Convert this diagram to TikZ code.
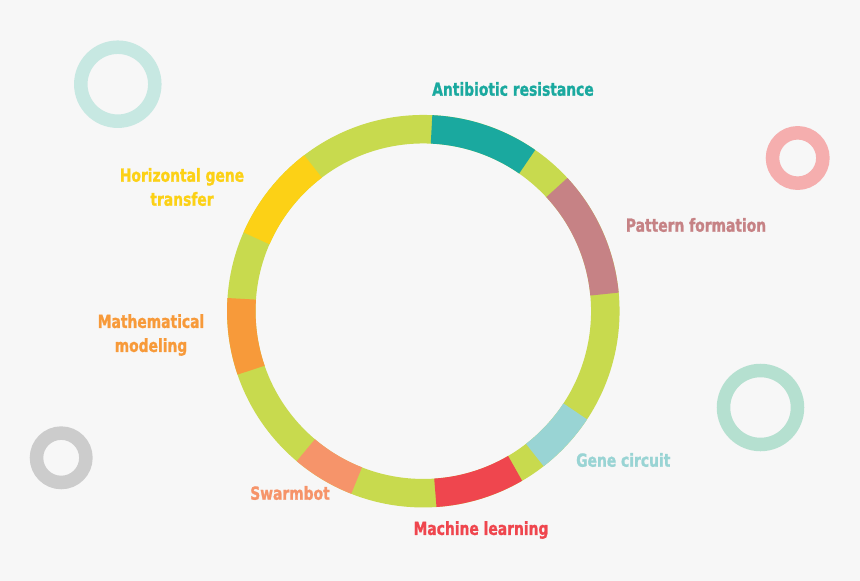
\documentclass[tikz,border=0pt]{standalone}
\usepackage{fontspec}
\setmainfont{DejaVu Sans}[FakeStretch=0.77, FakeBold=1.2]
\usepackage{tikz}
\definecolor{bgcol}{HTML}{F7F7F7}
\definecolor{ringgreen}{HTML}{C8DA4E}
\definecolor{abteal}{HTML}{1AA99F}
\definecolor{hgtyellow}{HTML}{FCD116}
\definecolor{mathorange}{HTML}{F79A3A}
\definecolor{swarmsalmon}{HTML}{F6946A}
\definecolor{mlred}{HTML}{EF464E}
\definecolor{gcblue}{HTML}{99D4D4}
\definecolor{pfmauve}{HTML}{C68285}
\definecolor{decomint}{HTML}{C7E8E2}
\definecolor{decopink}{HTML}{F5AEAE}
\definecolor{decogreen}{HTML}{B5E0D0}
\definecolor{decogray}{HTML}{CCCCCC}
\tikzstyle{topic} = [font=\bfseries\fontsize{18}{24}\selectfont, align=center, inner sep=0pt]
\tikzstyle{seg} = [line width=28.5pt]
\tikzstyle{deco} = [line width=13.5pt]

\begin{document}
\begin{tikzpicture}[x=1pt, y=-1pt]
  \fill[bgcol] (0,0) rectangle (860,581);
  \useasboundingbox (0,0) rectangle (860,581);
  % small rings around
  \draw[deco, decomint] (117.8,84.2) circle (37);
  \draw[deco, decopink] (797.7,158) circle (25.2);
  \draw[deco, decogreen] (760.5,407.5) circle (37);
  \draw[deco, decogray] (61.2,457.8) circle (24.7);
  % main ring
  \coordinate (ctr) at (423.3,311.2);
  \draw[seg, ringgreen] (ctr) circle (182);
  \draw[seg, abteal] ([shift={(-55.2:182)}]ctr) arc (-55.2:-87.4:182);
  \draw[seg, hgtyellow] ([shift={(-127.3:182)}]ctr) arc (-127.3:-156.4:182);
  \draw[seg, mathorange] ([shift={(-176.1:182)}]ctr) arc (-176.1:-198.9:182);
  \draw[seg, swarmsalmon] ([shift={(-229.8:182)}]ctr) arc (-229.8:-248.5:182);
  \draw[seg, mlred] ([shift={(-273.8:182)}]ctr) arc (-273.8:-300.3:182);
  \draw[seg, gcblue] ([shift={(-307.8:182)}]ctr) arc (-307.8:-326.6:182);
  \draw[seg, pfmauve] ([shift={(-5.4:182)}]ctr) arc (-5.4:-42.8:182);
  % labels
  \node (ab)[topic, text=abteal] at (513,89) {Antibiotic resistance};
  \node (hgt)[topic, text=hgtyellow] at (182,187) {Horizontal gene\\transfer};
  \node (math)[topic, text=mathorange] at (151,335) {Mathematical\\modeling};
  \node (pf)[topic, text=pfmauve] at (696,225) {Pattern formation};
  \node (gc)[topic, text=gcblue] at (623.3,460) {Gene circuit};
  \node (swarm)[topic, text=swarmsalmon] at (290,493) {Swarmbot};
  \node (ml)[topic, text=mlred] at (481,530) {Machine learning};
\end{tikzpicture}
\end{document}
